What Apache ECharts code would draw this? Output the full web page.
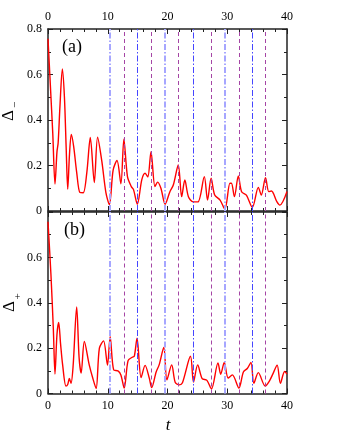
<!DOCTYPE html>
<html><head><meta charset="utf-8">
<script src="https://cdn.jsdelivr.net/npm/echarts@6/dist/echarts.min.js"></script>
<style>html,body{margin:0;padding:0;background:#fff}#c{width:340px;height:440px}</style>
</head><body><div id="c"></div>
<script>
// Panel (a): Delta_minus
var tA = [0, 0.4, 0.8, 1.17, 1.5, 1.7, 2.0, 2.4, 2.75, 3.05, 3.3, 3.6, 3.9, 4.3, 4.8, 5.35, 5.9, 6.5, 7.08, 7.75, 8.3, 9.0, 9.7, 10.27, 10.9, 11.55, 12.2, 12.7, 13.3, 13.95, 14.3, 14.95, 15.7, 16.25, 16.7, 17.24, 17.9, 18.35, 18.9, 19.6, 20.4, 20.97, 21.8, 22.37, 22.9, 23.5, 24.3, 25.1, 26.16, 26.7, 27.3, 27.9, 28.8, 29.6, 30.45, 30.7, 31.2, 31.85, 32.4, 33.2, 34.2, 35.2, 35.7, 36.4, 36.95, 37.4, 38.3, 38.8, 40];
var vA = [0.757, 0.55, 0.34, 0.118, 0.26, 0.30, 0.46, 0.624, 0.50, 0.27, 0.096, 0.25, 0.337, 0.283, 0.17, 0.081, 0.08, 0.17, 0.323, 0.125, 0.324, 0.22, 0.08, 0.028, 0.18, 0.222, 0.12, 0.316, 0.151, 0.107, 0.095, 0.03, 0.138, 0.166, 0.15, 0.261, 0.108, 0.127, 0.1, 0.03, 0.085, 0.114, 0.202, 0.063, 0.136, 0.063, 0.04, 0.04, 0.151, 0.048, 0.144, 0.07, 0.048, 0.008, 0.122, 0.122, 0.063, 0.154, 0.085, 0.07, 0.016, 0.104, 0.07, 0.146, 0.085, 0.088, 0.041, 0.026, 0.086];
// Panel (b): Delta_plus
var tB = [0, 0.5, 0.9, 1.17, 1.5, 1.79, 2.1, 2.45, 3.0, 3.3, 3.57, 3.85, 4.2, 4.8, 5.2, 5.55, 6.08, 6.9, 7.5, 8.05, 8.6, 9.3, 9.95, 10.4, 10.99, 11.7, 12.2, 12.75, 13.4, 14.1, 14.45, 14.9, 15.58, 16.25, 16.96, 17.35, 18.1, 18.6, 19.38, 19.9, 20.7, 21.3, 22.0, 22.5, 23.85, 24.35, 25.05, 25.8, 26.6, 27.35, 28.45, 28.9, 29.5, 30.15, 30.85, 31.95, 32.7, 33.35, 33.97, 34.45, 35.2, 36.35, 37.05, 37.7, 38.35, 38.9, 39.6, 40];
var vB = [0.757, 0.52, 0.28, 0.086, 0.26, 0.313, 0.22, 0.126, 0.033, 0.04, 0.066, 0.045, 0.12, 0.382, 0.16, 0.09, 0.229, 0.126, 0.067, 0.022, 0.2, 0.232, 0.125, 0.25, 0.104, 0.1, 0.082, 0.024, 0.145, 0.16, 0.165, 0.244, 0.07, 0.124, 0.067, 0.026, 0.095, 0.126, 0.203, 0.06, 0.126, 0.048, 0.038, 0.047, 0.164, 0.05, 0.126, 0.066, 0.058, 0.02, 0.135, 0.085, 0.137, 0.068, 0.082, 0.024, 0.095, 0.11, 0.137, 0.045, 0.092, 0.033, 0.055, 0.09, 0.125, 0.045, 0.097, 0.085];
// vertical marker positions
var tLightBlue = [10.26, 19.6, 29.6];
var tBlue = [14.9, 24.3, 34.2];
var tPurple = [12.77, 17.35, 21.8, 27.3, 32.0, 36.4];
var xTicks = [0, 10, 20, 30, 40];
var yTicks = [0, 0.2, 0.4, 0.6, 0.8];

var FONT = 'Liberation Serif';
var AX = '#222';
function pairs(t, v) { return t.map(function (x, i) { return [x, v[i]]; }); }
function xAx(grid, pos, labels) {
  return {type: 'value', gridIndex: grid, position: pos, min: xTicks[0], max: xTicks[xTicks.length - 1], interval: 10,
    axisLine: {show: true, onZero: false, lineStyle: {color: AX, width: 1.5}},
    axisTick: {show: true, inside: true, length: 5, lineStyle: {color: AX, width: 1}},
    minorTick: {show: true, splitNumber: 5, length: 3, lineStyle: {color: AX, width: 1}},
    splitLine: {show: false},
    axisLabel: {show: labels, margin: 6, fontFamily: FONT, fontSize: 12, color: '#000'}};
}
function yAx(grid, pos, labels, showMax) {
  return {type: 'value', gridIndex: grid, position: pos, min: yTicks[0], max: yTicks[yTicks.length - 1], interval: 0.2,
    axisLine: {show: true, onZero: false, lineStyle: {color: AX, width: 1.5}},
    axisTick: {show: true, inside: true, length: 5, lineStyle: {color: AX, width: 1}},
    minorTick: {show: true, splitNumber: 2, length: 3, lineStyle: {color: AX, width: 1}},
    splitLine: {show: false},
    axisLabel: {show: labels, margin: 6, showMaxLabel: showMax, fontFamily: FONT, fontSize: 12, color: '#000',
      formatter: function (v) { return v === 0 ? '0' : String(+v.toFixed(1)); }}};
}
function marks() {
  var d = [];
  tLightBlue.forEach(function (x) { d.push({xAxis: x, lineStyle: {color: '#a6a6ff', width: 2, type: [6, 2, 1.5, 2]}}); });
  tBlue.forEach(function (x) { d.push({xAxis: x, lineStyle: {color: '#4646ff', width: 1, type: [6, 2, 1.5, 2]}}); });
  tPurple.forEach(function (x) { d.push({xAxis: x, lineStyle: {color: '#a545a5', width: 1, type: [4, 3]}}); });
  return d;
}
function markSeries(xi, yi) {
  return {type: 'line', xAxisIndex: xi, yAxisIndex: yi, data: [], z: 1, silent: true,
    markLine: {silent: true, symbol: 'none', label: {show: false}, animation: false, data: marks()}};
}
function curve(xi, yi, d) {
  return {type: 'line', xAxisIndex: xi, yAxisIndex: yi, data: d, z: 3, smooth: 0.3, showSymbol: false,
    lineStyle: {color: '#ff0000', width: 1.4}, animation: false};
}
var chart = echarts.init(document.getElementById('c'), null, {renderer: 'canvas'});
chart.setOption({
  backgroundColor: '#fff',
  animation: false,
  grid: [
    {left: 48, top: 29, width: 239, height: 182},
    {left: 48, top: 212, width: 239, height: 181.5}
  ],
  xAxis: [xAx(0, 'top', true), xAx(0, 'bottom', false), xAx(1, 'bottom', true), xAx(1, 'top', false)],
  yAxis: [yAx(0, 'left', true, true), yAx(0, 'right', false, true), yAx(1, 'left', true, false), yAx(1, 'right', false, false)],
  series: [
    markSeries(0, 0), curve(0, 0, pairs(tA, vA)),
    markSeries(2, 2), curve(2, 2, pairs(tB, vB))
  ],
  graphic: [
    {type: 'text', left: 62, top: 38, style: {text: '(a)', font: '18px "Liberation Serif"', fill: '#000'}},
    {type: 'text', left: 64, top: 221, style: {text: '(b)', font: '18px "Liberation Serif"', fill: '#000'}},
    {type: 'text', x: 9, y: 115.5, rotation: Math.PI / 2, style: {text: 'Δ', font: '17px "Liberation Serif"', fill: '#000', textAlign: 'center', textVerticalAlign: 'middle'}},
    {type: 'text', x: 15.5, y: 105, rotation: Math.PI / 2, style: {text: '−', font: '11px "Liberation Serif"', fill: '#000', textAlign: 'center', textVerticalAlign: 'middle'}},
    {type: 'text', x: 10, y: 306.5, rotation: Math.PI / 2, style: {text: 'Δ', font: '17px "Liberation Serif"', fill: '#000', textAlign: 'center', textVerticalAlign: 'middle'}},
    {type: 'text', x: 18, y: 296.5, rotation: Math.PI / 2, style: {text: '+', font: '11px "Liberation Serif"', fill: '#000', textAlign: 'center', textVerticalAlign: 'middle'}},
    {type: 'text', x: 168, y: 426, style: {text: 't', font: 'italic 17px "Liberation Serif"', fill: '#000', textAlign: 'center', textVerticalAlign: 'middle'}}
  ]
});
</script>
</body></html>
